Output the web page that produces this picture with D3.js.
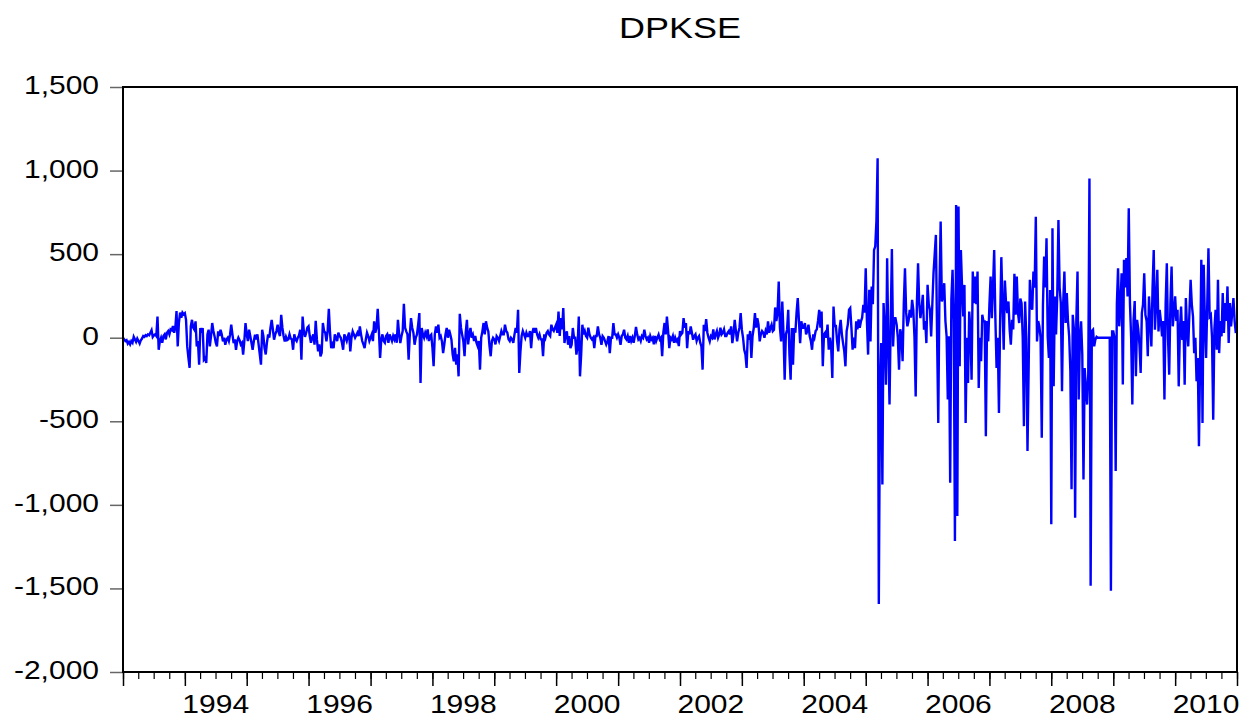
<!DOCTYPE html>
<html>
<head>
<meta charset="utf-8">
<script src="https://cdn.jsdelivr.net/npm/d3@7"></script>
<style>
body { margin: 0; background: #fff; }
text { font-family: "Liberation Sans", Arial, sans-serif; fill: #000; }
</style>
</head>
<body>
<div class="graph"></div>
<script>
// weekly changes of the KSE index, one array per calendar year
var y1993 = [0,-10,-20,-15,-35,-25,-40,-20,-30,5,-10,-25,-5,-20,-35,-15,-5,10,5,15,10,20,15,30,45,5,15,20,10,127,-72,-20,0,-30,10,20,-10,30,40,20,50,45,70,30,60,160,-52,90,150,120,150,140];
var y1994 = [147,107,-52,-120,-181,68,107,60,48,98,-52,-20,-161,58,30,58,-131,-121,-151,20,48,-52,10,88,40,8,-30,-52,38,10,48,20,-22,0,-42,-10,0,-20,18,78,20,-32,-10,-72,-20,0,-15,-40,-30,-101,-20,88];
var y1995 = [20,-20,48,10,-30,-72,-20,18,-10,20,-40,-100,-161,48,10,-62,-100,-30,20,0,60,107,50,-12,20,40,78,30,10,137,60,10,-22,5,-15,-10,20,-5,-10,-72,20,-10,-20,0,15,48,-131,127,40,5,30,60];
var y1996 = [68,10,-30,0,20,-42,101,-10,-82,-40,-111,-90,88,40,30,-22,40,173,30,-62,-40,-62,20,0,-20,30,10,0,-30,-72,20,0,-20,10,30,-82,0,38,20,0,15,30,10,68,20,-20,-40,-62,-10,30,10,-20];
var y1997 = [0,20,-20,98,30,60,173,40,-121,-10,20,-20,-30,10,20,-30,20,0,-20,10,-10,20,-30,107,20,-32,10,40,203,60,38,20,-131,20,117,60,30,-42,0,20,78,147,-271,58,20,0,30,10,50,-20,10,18];
var y1998 = [-60,-171,20,68,30,78,0,10,-22,-92,-40,20,58,0,48,20,-12,-100,-141,-60,-161,-100,-231,143,60,18,-20,-111,30,107,-40,20,58,0,18,-20,10,-30,-50,-20,-191,0,38,88,20,98,60,38,-50,-111,-20,0];
var y1999 = [-10,-40,10,0,-20,10,40,20,20,78,40,30,-10,-20,0,-10,-30,20,58,30,167,-211,-82,10,40,20,0,30,10,10,40,-62,30,58,30,58,20,0,20,-10,-10,-111,20,0,30,40,20,10,78,50,40,60];
var y2000 = [78,30,157,10,117,50,177,-32,20,38,-42,10,-62,-42,58,0,0,-101,-50,127,-231,-100,78,20,40,10,0,60,20,0,-10,0,-62,10,10,68,20,0,-42,10,0,-20,-40,-20,10,-92,0,0,88,20,20,0];
var y2001 = [20,0,-42,10,20,48,0,-10,10,-30,10,-20,0,-30,10,64,20,-10,0,-20,10,0,48,10,-10,0,-30,10,-10,0,-40,10,-20,0,18,-10,0,-111,30,88,20,127,40,-62,0,-10,10,-30,0,-20,-10,-50];
var y2002 = [40,20,30,117,60,88,-62,40,20,68,30,-12,10,20,-20,0,10,-30,-52,-191,78,40,111,30,0,-22,10,0,50,-10,20,40,0,20,60,20,30,50,10,10,30,40,20,68,-32,20,107,40,-22,30,60,147];
var y2003 = [48,0,-72,-100,-181,20,-12,40,-121,10,58,147,60,117,80,-22,20,40,30,0,40,20,98,30,58,78,40,48,181,100,147,336,60,-22,217,30,-251,20,48,167,-100,-251,58,-161,58,30,150,237,100,-32,98,60];
var y2004 = [60,88,20,40,78,10,-20,-72,20,0,40,50,100,167,60,157,-171,20,30,0,78,-72,0,-50,-241,187,70,70,-20,-82,50,107,20,-32,-80,-171,40,80,167,177,60,-72,0,-62,98,50,110,60,98,120,197,150];
var y2005 = [416,100,-101,287,-22,306,200,525,545,700,1073,-1593,-300,-32,-878,207,50,-281,475,-32,-400,100,531,-52,117,117,78,0,-191,50,18,-141,200,416,150,68,100,167,120,226,167,0,-351,200,446,200,117,180,257,48,100,-32];
var y2006 = [316,200,167,8,200,387,500,615,8,-510,300,695,217,250,326,100,8,-370,8,-868,227,406,100,-1216,794,-1067,785,-171,525,300,127,316,-510,0,-271,157,50,-251,396,207,366,200,396,-301,0,-141,137,98,98,-589,100,-22];
var y2007 = [200,366,117,300,525,117,-181,0,-450,100,482,200,-72,342,200,147,217,50,-42,107,50,382,137,366,150,88,235,207,0,-529,217,0,-678,-171,346,200,167,396,300,724,-22,100,68,0,-599,196,485,300,595,8,-121,286];
var y2008 = [-1116,655,-290,247,20,247,704,300,207,-320,207,396,88,267,100,8,-200,-907,137,50,-1077,100,396,-370,0,98,-100,-848,-181,-300,-400,-221,953,-1484,40,48,-52,-10,5,0,0,0,0,0,0,0,0,0,0,0,-1514,38];
var y2009 = [38,0,-798,200,416,68,200,386,-280,466,300,476,247,774,207,0,-400,100,219,-231,107,50,-42,-211,147,200,386,137,100,-111,247,100,-52,300,525,48,200,406,38,167,100,8,100,-370,200,446,0,-221,200,426,68,150];
var y2010 = [247,100,167,-291,50,187,-14,100,-281,237,50,-52,150,346,200,127,-92,0,-261,-121,-649,-131,466,-510,436,100,-121,200,535,127,137,0,-490,50,167,-72,346,-92,100,8,267,28,207,100,307,-32,207,68,150,237,100,28];

var years = [1993,1994,1995,1996,1997,1998,1999,2000,2001,2002,2003,2004,2005,2006,2007,2008,2009,2010];
var yearValues = [y1993,y1994,y1995,y1996,y1997,y1998,y1999,y2000,y2001,y2002,y2003,y2004,y2005,y2006,y2007,y2008,y2009,y2010];
var yTicks = [1500, 1000, 500, 0, -500, -1000, -1500, -2000];
var yearLabels = [1994, 1996, 1998, 2000, 2002, 2004, 2006, 2008, 2010];
var title = "DPKSE";

// spread each year's weekly points over that year
var data = [];
years.forEach(function (yr, k) {
    var t0 = +new Date(yr, 0, 1), t1 = +new Date(yr + 1, 0, 1);
    var vals = yearValues[k];
    vals.forEach(function (v, i) {
        data.push({date: new Date(t0 + (t1 - t0) * i / vals.length), value: v});
    });
});

var plotLeft = 123, plotTop = 87, plotRight = 1237, plotBottom = 672;
var stretch = 1.2;   // the original picture is widened a bit

var svg = d3.select(".graph").append("svg")
    .attr("width", 1253)
    .attr("height", 722);

var x = d3.scaleTime()
    .domain([new Date(1993, 0, 1), new Date(2011, 0, 1)])
    .range([plotLeft, plotRight]);

var y = d3.scaleLinear()
    .domain([-2000, 1500])
    .range([plotBottom, plotTop]);

var fmt = d3.formatLocale({decimal: ".", thousands: ",", grouping: [3], currency: ["", ""], minus: "-"}).format(",");

// y axis
var yAxisGroup = svg.append("g")
    .attr("transform", "translate(" + plotLeft + ",0)");
yAxisGroup.call(d3.axisLeft(y).tickValues(yTicks).tickSize(13).tickSizeOuter(0).tickFormat(fmt));
yAxisGroup.select(".domain").remove();
yAxisGroup.selectAll(".tick line").attr("stroke", "#666").attr("stroke-width", 1.5);
yAxisGroup.selectAll(".tick text")
    .attr("x", -24 / stretch)
    .attr("dy", "0.26em")
    .attr("transform", "scale(" + stretch + ",1)")
    .style("font-size", "25px")
    .style("font-family", "'Liberation Sans', Arial, sans-serif")
    .attr("fill", "#000");

// x axis: quarterly minor ticks, yearly major ticks
var xMinor = svg.append("g").attr("transform", "translate(0," + plotBottom + ")");
xMinor.call(d3.axisBottom(x).ticks(d3.timeMonth.every(3)).tickSize(7).tickSizeOuter(0).tickFormat(""));
xMinor.select(".domain").remove();
xMinor.selectAll(".tick line").attr("stroke", "#000").attr("stroke-width", 1.2);

var xMajor = svg.append("g").attr("transform", "translate(0," + plotBottom + ")");
xMajor.call(d3.axisBottom(x).ticks(d3.timeYear.every(1)).tickSize(14).tickSizeOuter(0).tickFormat(""));
xMajor.select(".domain").remove();
xMajor.selectAll(".tick line").attr("stroke", "#000").attr("stroke-width", 1.5);

svg.append("g").selectAll("text")
    .data(yearLabels)
    .enter().append("text")
    .attr("transform", function (d) {
        return "translate(" + x(new Date(d, 6, 2)) + ",713) scale(" + stretch + ",1)";
    })
    .attr("text-anchor", "middle")
    .style("font-size", "25px")
    .text(function (d) { return d; });

// series
var line = d3.line()
    .x(function (d) { return x(d.date); })
    .y(function (d) { return y(d.value); });

svg.append("path")
    .datum(data)
    .attr("fill", "none")
    .attr("stroke", "#0000ff")
    .attr("stroke-width", 2.4)
    .attr("d", line);

// frame
svg.append("rect")
    .attr("x", plotLeft)
    .attr("y", plotTop)
    .attr("width", plotRight - plotLeft)
    .attr("height", plotBottom - plotTop)
    .attr("fill", "none")
    .attr("stroke", "#000")
    .attr("stroke-width", 2);

svg.append("text")
    .attr("transform", "translate(" + ((plotLeft + plotRight) / 2) + ",38) scale(" + stretch + ",1)")
    .attr("text-anchor", "middle")
    .style("font-size", "30px")
    .text(title);
</script>
</body>
</html>
